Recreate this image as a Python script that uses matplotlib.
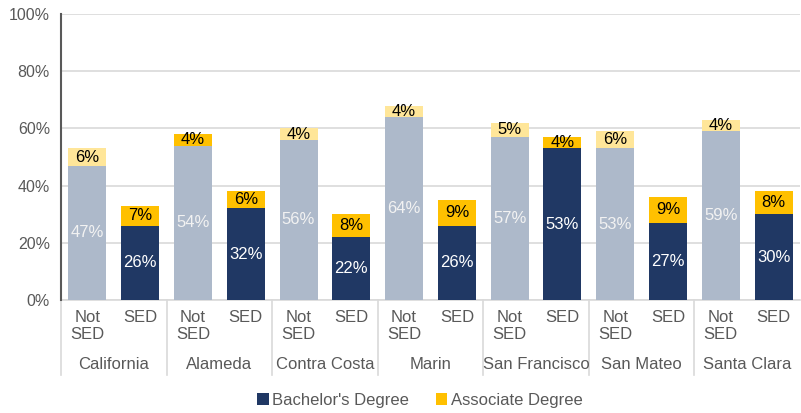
import matplotlib
matplotlib.use("Agg")
import matplotlib.pyplot as plt
from matplotlib.patches import Patch
import numpy as np

plt.rcParams['font.family'] = ['Liberation Sans', 'DejaVu Sans']

# data (percent)
groups = ["California", "Alameda", "Contra Costa", "Marin", "San Francisco", "San Mateo", "Santa Clara"]
sub_labels = ["Not\nSED", "SED"]
not_sed_bach = [47, 54, 56, 64, 57, 53, 59]
not_sed_assoc = [6, 4, 4, 4, 5, 6, 4]
sed_bach = [26, 32, 22, 26, 53, 27, 30]
sed_assoc = [7, 6, 8, 9, 4, 9, 8]

# colours
navy = "#203864"
grayblue = "#ADB9CA"
gold = "#FFC000"
paleyellow = "#FFE699"
textgray = "#595959"
gridgray = "#D9D9D9"
# Alameda's Not SED associate segment is drawn in the darker gold
not_sed_assoc_colors = [paleyellow, gold, paleyellow, paleyellow, paleyellow, paleyellow, paleyellow]

fig = plt.figure(figsize=(8.01, 4.13), dpi=100)
ax = fig.add_subplot(111)
fig.subplots_adjust(left=61/801, right=800/801, bottom=(413-300)/413, top=(413-14)/413)

n = len(groups)
x_not = np.arange(n) * 2
x_sed = x_not + 1
w = 0.72
fs = 11.5

ax.bar(x_not, not_sed_bach, width=w, color=grayblue, zorder=3)
ax.bar(x_not, not_sed_assoc, bottom=not_sed_bach, width=w, color=not_sed_assoc_colors, zorder=3)
ax.bar(x_sed, sed_bach, width=w, color=navy, zorder=3)
ax.bar(x_sed, sed_assoc, bottom=sed_bach, width=w, color=gold, zorder=3)

for i in range(n):
    ax.text(x_not[i], not_sed_bach[i] / 2, f"{not_sed_bach[i]}%", ha="center", va="center",
            color="#F2F2F2", fontsize=fs + 0.5, zorder=4)
    ax.text(x_not[i], not_sed_bach[i] + not_sed_assoc[i] / 2, f"{not_sed_assoc[i]}%", ha="center",
            va="center", color="black", fontsize=fs + 0.5, zorder=4)
    ax.text(x_sed[i], sed_bach[i] / 2, f"{sed_bach[i]}%", ha="center", va="center",
            color="white", fontsize=fs + 0.5, zorder=4)
    ax.text(x_sed[i], sed_bach[i] + sed_assoc[i] / 2, f"{sed_assoc[i]}%", ha="center",
            va="center", color="black", fontsize=fs + 0.5, zorder=4)

ax.set_xlim(-0.5, 2 * n - 0.5)
ax.set_ylim(0, 100)
ax.set_yticks(range(0, 101, 20))
ax.set_yticklabels([f"{v}%" for v in range(0, 101, 20)], color=textgray, fontsize=fs)
ax.tick_params(axis="y", length=0, pad=8)
ax.set_xticks([])
ax.yaxis.grid(True, color=gridgray, linewidth=1.2, zorder=0)

for s in ["top", "right"]:
    ax.spines[s].set_visible(False)
ax.spines["left"].set_color(textgray)
ax.spines["left"].set_linewidth(1.5)
ax.spines["left"].set_zorder(5)
ax.spines["bottom"].set_color(gridgray)
ax.spines["bottom"].set_linewidth(1.2)

# two-level category axis
trans = ax.get_xaxis_transform()
for i in range(n):
    ax.text(x_not[i], -0.035, sub_labels[0], transform=trans, ha="center", va="top",
            color=textgray, fontsize=fs + 0.5, linespacing=1.15)
    ax.text(x_sed[i], -0.035, sub_labels[1], transform=trans, ha="center", va="top",
            color=textgray, fontsize=fs + 0.5)
    ax.text(x_not[i] + 0.5, -0.227, groups[i], transform=trans, ha="center", va="center",
            color=textgray, fontsize=fs + 0.5)
for i in range(n):
    ax.plot([x_not[i] - 0.5] * 2, [0, -0.262], transform=trans, color=gridgray,
            linewidth=1.2, clip_on=False)

handles = [Patch(facecolor=navy, label="Bachelor's Degree"),
           Patch(facecolor=gold, label="Associate Degree")]
leg = fig.legend(handles=handles, loc="center", bbox_to_anchor=(0.524, 1 - 400/413), ncol=2,
                 frameon=False, fontsize=fs + 0.5, handlelength=0.7, handleheight=0.7,
                 handletextpad=0.2, columnspacing=1.6)
for t in leg.get_texts():
    t.set_color(textgray)

fig.savefig("out.png", dpi=100)
